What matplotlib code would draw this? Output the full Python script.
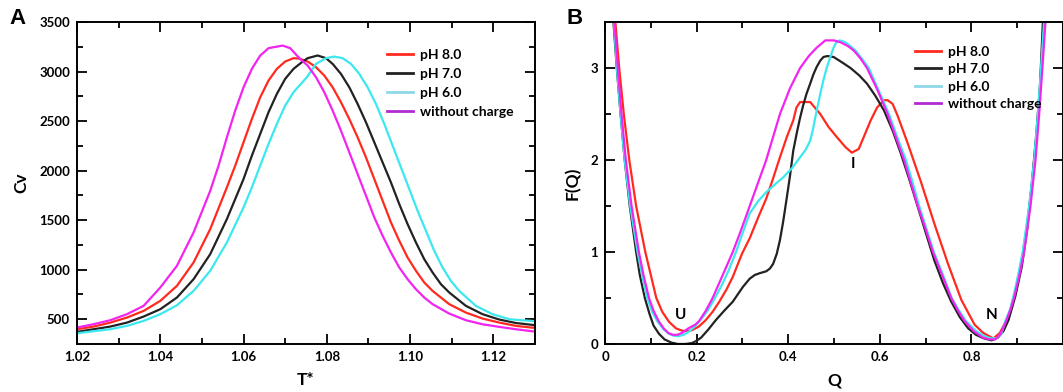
import numpy as np
import matplotlib
matplotlib.use("Agg")
import matplotlib.pyplot as plt
from matplotlib.ticker import MultipleLocator, FixedLocator, FixedFormatter

plt.rcParams['font.family'] = ['Lato', 'DejaVu Sans']
plt.rcParams['font.weight'] = 'bold'

# ---- panel A : heat capacity vs temperature ----
t_ph8 = [1.020, 1.024, 1.028, 1.032, 1.036, 1.040, 1.044, 1.048, 1.052, 1.056, 1.058, 1.060, 1.062,
         1.064, 1.066, 1.068, 1.070, 1.072, 1.0734, 1.0754, 1.0774, 1.0794, 1.0814, 1.0834, 1.0854,
         1.0874, 1.0894, 1.0914, 1.0934, 1.0954, 1.0974, 1.0994, 1.1014, 1.1034, 1.1054, 1.1094,
         1.1134, 1.1174, 1.1214, 1.1254, 1.13]
cv_ph8 = [399, 426, 466, 517, 584, 685, 837, 1073, 1410, 1831, 2050, 2286, 2521,
          2740, 2909, 3027, 3101, 3135, 3130, 3101, 3044, 2959, 2841, 2690, 2521,
          2336, 2134, 1915, 1696, 1477, 1292, 1123, 989, 871, 786, 652,
          567, 507, 466, 433, 412]

t_ph7 = [1.020, 1.024, 1.028, 1.032, 1.036, 1.040, 1.044, 1.048, 1.052, 1.056, 1.060, 1.062, 1.064,
         1.066, 1.068, 1.070, 1.072, 1.074, 1.0754, 1.0778, 1.0798, 1.0814, 1.0834, 1.0854, 1.0874,
         1.0894, 1.0914, 1.0934, 1.0954, 1.0974, 1.0994, 1.1014, 1.1034, 1.1054, 1.1074, 1.1094,
         1.1134, 1.1174, 1.1214, 1.1254, 1.13]
cv_ph7 = [372, 399, 426, 466, 527, 601, 719, 904, 1157, 1511, 1915, 2151, 2370,
          2589, 2774, 2926, 3027, 3094, 3135, 3162, 3135, 3077, 2976, 2841, 2673,
          2488, 2286, 2083, 1881, 1662, 1460, 1275, 1106, 972, 854, 770,
          635, 551, 497, 462, 440]

t_ph6 = [1.020, 1.024, 1.028, 1.032, 1.036, 1.040, 1.044, 1.048, 1.052, 1.056, 1.060, 1.062, 1.064,
         1.066, 1.068, 1.070, 1.072, 1.0752, 1.0774, 1.0798, 1.0818, 1.0838, 1.0858, 1.0878, 1.0898,
         1.0918, 1.0938, 1.0958, 1.0978, 1.0998, 1.1018, 1.1038, 1.1058, 1.1078, 1.1098, 1.1118,
         1.1158, 1.1198, 1.1238, 1.13]
cv_ph6 = [358, 379, 399, 433, 483, 551, 641, 786, 989, 1275, 1629, 1831, 2050,
          2269, 2471, 2656, 2791, 2942, 3077, 3135, 3151, 3135, 3077, 2976, 2841,
          2673, 2471, 2252, 2033, 1814, 1595, 1393, 1191, 1022, 887, 786,
          635, 551, 500, 480]

t_nc = [1.020, 1.024, 1.028, 1.032, 1.036, 1.040, 1.044, 1.048, 1.052, 1.054, 1.056, 1.058, 1.060,
        1.062, 1.064, 1.066, 1.0694, 1.0712, 1.0734, 1.0754, 1.0774, 1.0794, 1.0814, 1.0834, 1.0854,
        1.0874, 1.0894, 1.0914, 1.0934, 1.0954, 1.0974, 1.0994, 1.1014, 1.1034, 1.1054, 1.1094,
        1.1134, 1.1174, 1.1214, 1.1254, 1.13]
cv_nc = [416, 450, 490, 551, 635, 820, 1039, 1376, 1797, 2050, 2336, 2606, 2841,
         3027, 3161, 3236, 3262, 3236, 3135, 3060, 2943, 2791, 2606, 2403, 2185,
         1965, 1747, 1528, 1342, 1174, 1022, 904, 803, 719, 652, 557,
         490, 449, 423, 399, 375]

# ---- panel B : free energy profile F(Q) ----
q_ph8 = [0.021, 0.031, 0.041, 0.053, 0.068, 0.088, 0.100, 0.112, 0.125, 0.140, 0.155, 0.168, 0.178,
         0.190, 0.205, 0.220, 0.235, 0.2495, 0.265, 0.279, 0.299, 0.316, 0.334, 0.352, 0.367, 0.382,
         0.397, 0.411, 0.418, 0.426, 0.448, 0.470, 0.488, 0.506, 0.525, 0.539, 0.554, 0.565, 0.580,
         0.594, 0.609, 0.617, 0.628, 0.639, 0.661, 0.690, 0.719, 0.749, 0.778, 0.807, 0.826, 0.848,
         0.862, 0.881, 0.895, 0.910, 0.921, 0.932, 0.942, 0.950, 0.959]
f_ph8 = [3.6, 3.0, 2.5, 2.0, 1.5, 1.0, 0.75, 0.5, 0.35, 0.24, 0.17, 0.145, 0.14,
         0.15, 0.19, 0.26, 0.35, 0.46, 0.59, 0.73, 0.98, 1.15, 1.37, 1.58, 1.80, 2.03,
         2.25, 2.43, 2.57, 2.63, 2.63, 2.50, 2.36, 2.25, 2.14, 2.08, 2.12, 2.25, 2.43,
         2.57, 2.65, 2.65, 2.61, 2.48, 2.18, 1.76, 1.31, 0.87, 0.48, 0.21, 0.12, 0.06,
         0.12, 0.30, 0.55, 0.91, 1.27, 1.74, 2.25, 2.79, 3.6]

q_ph7 = [0.017, 0.0257, 0.034, 0.043, 0.054, 0.068, 0.076, 0.087, 0.097, 0.106, 0.118, 0.130, 0.145,
         0.160, 0.175, 0.190, 0.200, 0.210, 0.226, 0.242, 0.260, 0.279, 0.290, 0.301, 0.316, 0.327,
         0.338, 0.352, 0.360, 0.367, 0.375, 0.382, 0.389, 0.396, 0.404, 0.411, 0.419, 0.426, 0.433,
         0.440, 0.448, 0.455, 0.462, 0.470, 0.477, 0.486, 0.499, 0.518, 0.536, 0.555, 0.572, 0.590,
         0.609, 0.628, 0.646, 0.665, 0.683, 0.701, 0.719, 0.738, 0.756, 0.775, 0.793, 0.810, 0.828,
         0.844, 0.858, 0.870, 0.881, 0.896, 0.910, 0.922, 0.932, 0.942, 0.950, 0.957]
f_ph7 = [3.6, 3.0, 2.5, 2.0, 1.5, 1.0, 0.75, 0.5, 0.33, 0.2, 0.11, 0.05, 0.015,
         0.0, 0.0, 0.01, 0.035, 0.07, 0.16, 0.26, 0.36, 0.46, 0.54, 0.62, 0.71, 0.75,
         0.77, 0.79, 0.82, 0.87, 0.98, 1.13, 1.33, 1.56, 1.83, 2.10, 2.30, 2.46, 2.60,
         2.72, 2.83, 2.93, 3.01, 3.08, 3.12, 3.13, 3.12, 3.06, 3.0, 2.92, 2.83, 2.70,
         2.54, 2.32, 2.07, 1.78, 1.49, 1.20, 0.91, 0.66, 0.46, 0.29, 0.17, 0.10, 0.06,
         0.04, 0.07, 0.14, 0.26, 0.52, 0.84, 1.25, 1.74, 2.30, 2.83, 3.6]

q_ph6 = [0.018, 0.026, 0.034, 0.043, 0.055, 0.071, 0.081, 0.092, 0.103, 0.115, 0.128, 0.140, 0.150,
         0.160, 0.172, 0.185, 0.198, 0.210, 0.225, 0.240, 0.255, 0.270, 0.286, 0.300, 0.316, 0.334,
         0.352, 0.370, 0.389, 0.408, 0.426, 0.438, 0.448, 0.454, 0.459, 0.465, 0.470, 0.477, 0.484,
         0.492, 0.499, 0.505, 0.512, 0.520, 0.528, 0.547, 0.561, 0.576, 0.598, 0.620, 0.638, 0.657,
         0.672, 0.686, 0.702, 0.718, 0.738, 0.757, 0.772, 0.788, 0.808, 0.828, 0.843, 0.856, 0.866,
         0.874, 0.884, 0.891, 0.902, 0.912, 0.926, 0.937, 0.945, 0.952, 0.960]
f_ph6 = [3.6, 3.0, 2.5, 2.0, 1.5, 1.0, 0.75, 0.5, 0.35, 0.24, 0.16, 0.11, 0.09,
         0.085, 0.10, 0.14, 0.20, 0.27, 0.37, 0.5, 0.64, 0.80, 1.0, 1.2, 1.42, 1.55,
         1.65, 1.73, 1.81, 1.91, 2.03, 2.11, 2.21, 2.33, 2.46, 2.60, 2.72, 2.87, 3.0,
         3.12, 3.22, 3.28, 3.30, 3.29, 3.27, 3.19, 3.10, 3.0, 2.75, 2.5, 2.25, 2.0,
         1.75, 1.5, 1.25, 1.0, 0.75, 0.5, 0.37, 0.25, 0.15, 0.085, 0.06, 0.065, 0.12,
         0.25, 0.37, 0.5, 0.75, 1.0, 1.5, 2.0, 2.5, 3.0, 3.6]

q_nc = [0.019, 0.0279, 0.036, 0.0455, 0.058, 0.074, 0.084, 0.096, 0.106, 0.117, 0.128, 0.138, 0.148,
        0.158, 0.168, 0.182, 0.197, 0.2055, 0.220, 0.235, 0.250, 0.265, 0.279, 0.298, 0.316, 0.334,
        0.352, 0.367, 0.382, 0.404, 0.426, 0.445, 0.462, 0.481, 0.500, 0.514, 0.530, 0.543, 0.557,
        0.572, 0.595, 0.617, 0.635, 0.653, 0.668, 0.683, 0.700, 0.716, 0.736, 0.756, 0.770, 0.785,
        0.805, 0.825, 0.840, 0.852, 0.862, 0.870, 0.876, 0.885, 0.893, 0.905, 0.915, 0.929, 0.940,
        0.948, 0.955, 0.963]
f_nc = [3.6, 3.0, 2.5, 2.0, 1.5, 1.0, 0.75, 0.5, 0.36, 0.25, 0.17, 0.12, 0.10,
        0.10, 0.12, 0.17, 0.21, 0.25, 0.36, 0.5, 0.67, 0.84, 1.0, 1.25, 1.5, 1.75,
        2.0, 2.25, 2.5, 2.78, 3.0, 3.13, 3.22, 3.30, 3.30, 3.28, 3.24, 3.19, 3.11,
        3.0, 2.76, 2.5, 2.25, 2.0, 1.75, 1.5, 1.25, 1.0, 0.75, 0.5, 0.37, 0.25,
        0.14, 0.07, 0.05, 0.05, 0.10, 0.18, 0.25, 0.37, 0.5, 0.75, 1.0, 1.5, 2.0,
        2.5, 3.0, 3.6]

labels = ['pH 8.0', 'pH 7.0', 'pH 6.0', 'without charge']
colors = ['#ff2a1f', '#222222', '#3ce8f0', '#f224f0']
legend_colors = ['#ff2a1f', '#222222', '#8fd8ea', '#b12ad0']

fig = plt.figure(figsize=(10.63, 3.92), dpi=100)
axA = fig.add_axes([77 / 1063, 48 / 392, 458 / 1063, 322 / 392])
axB = fig.add_axes([605 / 1063, 48 / 392, 458 / 1063, 322 / 392])


def style(ax):
    for s in ax.spines.values():
        s.set_linewidth(1.4)
    ax.tick_params(which='both', direction='in', top=True, right=True, width=1.3,
                   labelsize=9.5, pad=5)
    ax.tick_params(which='major', length=7)
    ax.tick_params(which='minor', length=4)


dataA = [(t_ph8, cv_ph8), (t_ph7, cv_ph7), (t_ph6, cv_ph6), (t_nc, cv_nc)]
for (x, y), c in zip(dataA, colors):
    axA.plot(x, y, color=c, lw=1.6)
axA.set_xlim(1.02, 1.13)
axA.set_ylim(250, 3500)
axA.xaxis.set_major_locator(MultipleLocator(0.02))
axA.xaxis.set_minor_locator(MultipleLocator(0.01))
axA.xaxis.set_major_formatter(plt.FormatStrFormatter('%.2f'))
axA.yaxis.set_major_locator(FixedLocator([500, 1000, 1500, 2000, 2500, 3000, 3500]))
axA.yaxis.set_minor_locator(FixedLocator([750, 1250, 1750, 2250, 2750, 3250]))
style(axA)
axA.set_xlabel('T*', fontsize=12.5, fontweight='bold')
axA.set_ylabel('Cv', fontsize=12.5, fontweight='bold')
axA.xaxis.set_label_coords(0.5, -0.087)
axA.yaxis.set_label_coords(-0.105, 0.5)

dataB = [(q_ph8, f_ph8), (q_ph7, f_ph7), (q_ph6, f_ph6), (q_nc, f_nc)]
for (x, y), c in zip(dataB, colors):
    axB.plot(x, y, color=c, lw=1.6)
axB.set_xlim(0, 1.0)
axB.set_ylim(0, 3.5)
axB.xaxis.set_major_locator(FixedLocator([0, 0.2, 0.4, 0.6, 0.8]))
axB.xaxis.set_major_formatter(FixedFormatter(['0', '0.2', '0.4', '0.6', '0.8']))
axB.xaxis.set_minor_locator(FixedLocator([0.1, 0.3, 0.5, 0.7, 0.9]))
axB.yaxis.set_major_locator(FixedLocator([0, 1, 2, 3]))
axB.yaxis.set_minor_locator(FixedLocator([0.5, 1.5, 2.5]))
style(axB)
axB.set_xlabel('Q', fontsize=12.5, fontweight='bold')
axB.set_ylabel('F(Q)', fontsize=12.5, fontweight='bold')
axB.xaxis.set_label_coords(0.5, -0.09)
axB.yaxis.set_label_coords(-0.052, 0.5)
axB.text(0.164, 0.31, 'U', fontsize=11, fontweight='bold', ha='center', va='center')
axB.text(0.541, 1.96, 'I', fontsize=11, fontweight='bold', ha='center', va='center')
axB.text(0.844, 0.31, 'N', fontsize=11, fontweight='bold', ha='center', va='center')

for ax, x0, y0, sp in [(axA, 387 / 1063, 1 - 49 / 392, 0.5), (axB, 915 / 1063, 1 - 46 / 392, 0.38)]:
    handles = [plt.Line2D([], [], color=c, lw=2) for c in legend_colors]
    ax.legend(handles, labels, loc='upper left', bbox_to_anchor=(x0, y0),
              bbox_transform=fig.transFigure, frameon=False, borderpad=0, borderaxespad=0,
              handlelength=1.9, handletextpad=0.45, labelspacing=sp,
              prop={'size': 10, 'weight': 'bold'})

fig.text(17 / 1063, 1 - 18 / 392, 'A', fontsize=16, fontweight='bold', ha='center', va='center',
         family='Liberation Sans')
fig.text(575 / 1063, 1 - 18 / 392, 'B', fontsize=16, fontweight='bold', ha='center', va='center',
         family='Liberation Sans')

fig.savefig('out.png', dpi=100)
